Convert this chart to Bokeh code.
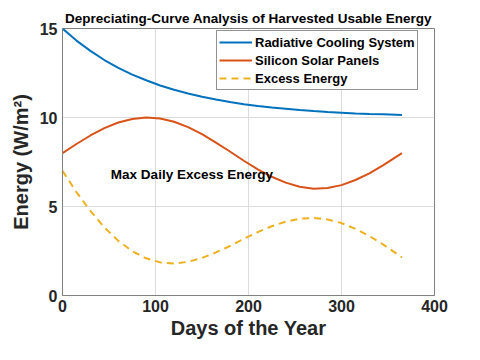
from bokeh.plotting import figure
from bokeh.models import Legend, LegendItem, Range1d, FixedTicker, Label
from bokeh.embed import file_html
from bokeh.resources import INLINE

days = [0, 15, 30, 45, 60, 75, 90, 105, 120, 135, 150, 165, 180, 195, 210,
        225, 240, 255, 270, 285, 300, 315, 330, 345, 365]
radiative = [15.00, 14.32, 13.74, 13.23, 12.79, 12.41, 12.09, 11.80, 11.56, 11.35,
             11.17, 11.01, 10.87, 10.75, 10.65, 10.56, 10.49, 10.42, 10.36, 10.31,
             10.27, 10.23, 10.20, 10.18, 10.14]
solar = [8.00, 8.51, 8.99, 9.40, 9.72, 9.92, 10.00, 9.94, 9.76, 9.46,
         9.06, 8.59, 8.09, 7.57, 7.09, 6.67, 6.34, 6.11, 6.00, 6.04,
         6.20, 6.49, 6.86, 7.32, 8.00]
excess = [7.00, 5.81, 4.75, 3.83, 3.07, 2.49, 2.09, 1.86, 1.80, 1.89,
          2.11, 2.42, 2.78, 3.18, 3.56, 3.89, 4.15, 4.31, 4.36, 4.27,
          4.07, 3.74, 3.34, 2.86, 2.14]
x_ticks = [0, 100, 200, 300, 400]
y_ticks = [0, 5, 10, 15]
series_names = ["Radiative Cooling System", "Silicon Solar Panels", "Excess Energy"]
annotation = "Max Daily Excess Energy"
annotation_pos = (52, 6.8)

FONT = "Liberation Sans"
TXT = "#262626"

p = figure(width=464, height=344, output_backend="svg", toolbar_location=None,
           x_range=Range1d(0, 400), y_range=Range1d(0, 15),
           min_border_left=62, min_border_right=30, min_border_top=28, min_border_bottom=49,
           title="Depreciating-Curve Analysis of Harvested Usable Energy")
p.background_fill_color = "white"
p.border_fill_color = "white"
p.outline_line_color = "#808080"
p.outline_line_width = 1

p.title.text_font = FONT
p.title.text_font_size = "13.5px"
p.title.text_font_style = "bold"
p.title.text_color = "black"
p.title.align = "center"
p.title.offset = 0
p.title.standoff = 5

for ax, ticks in ((p.xaxis, x_ticks), (p.yaxis, y_ticks)):
    ax.ticker = FixedTicker(ticks=ticks)
    ax.axis_line_color = "#808080"
    ax.major_tick_line_color = None
    ax.minor_tick_line_color = None
    ax.major_tick_out = 0
    ax.major_tick_in = 0
    ax.minor_tick_out = 0
    ax.minor_tick_in = 0
    ax.major_label_text_font = FONT
    ax.major_label_text_font_style = "bold"
    ax.major_label_text_font_size = "16px"
    ax.major_label_text_color = TXT
    ax.axis_label_text_font = FONT
    ax.axis_label_text_font_style = "bold"
    ax.axis_label_text_font_size = "20px"
    ax.axis_label_text_color = TXT

p.xaxis.axis_label = "Days of the Year"
p.yaxis.axis_label = "Energy (W/m²)"
p.xaxis.major_label_standoff = 4
p.yaxis.major_label_standoff = 5
p.xaxis.axis_label_standoff = 2
p.yaxis.axis_label_standoff = 5

p.xgrid.ticker = FixedTicker(ticks=x_ticks)
p.ygrid.ticker = FixedTicker(ticks=y_ticks)
p.grid.grid_line_color = "#dcdcdc"
p.grid.grid_line_width = 1

r1 = p.line(days, radiative, line_color="#0072BD", line_width=2)
r2 = p.line(days, solar, line_color="#D95319", line_width=2)
r3 = p.line(days, excess, line_color="#EDB120", line_width=2, line_dash="7 5")

lab = Label(x=annotation_pos[0], y=annotation_pos[1], text=annotation,
            text_font=FONT, text_font_style="bold", text_font_size="13.5px",
            text_color="black", text_baseline="middle")
p.add_layout(lab)

legend = Legend(items=[LegendItem(label=series_names[0], renderers=[r1]),
                       LegendItem(label=series_names[1], renderers=[r2]),
                       LegendItem(label=series_names[2], renderers=[r3])],
                location=(154, 205))
legend.label_text_font = FONT
legend.label_text_font_style = "bold"
legend.label_text_font_size = "13px"
legend.label_text_color = "black"
legend.glyph_width = 33
legend.glyph_height = 18
legend.label_height = 18
legend.spacing = 0
legend.padding = 2
legend.margin = 0
legend.label_standoff = 3
legend.border_line_color = "#262626"
legend.border_line_width = 1
legend.background_fill_color = "white"
legend.background_fill_alpha = 1
p.add_layout(legend)

open("out.html", "w").write(file_html(p, INLINE))
